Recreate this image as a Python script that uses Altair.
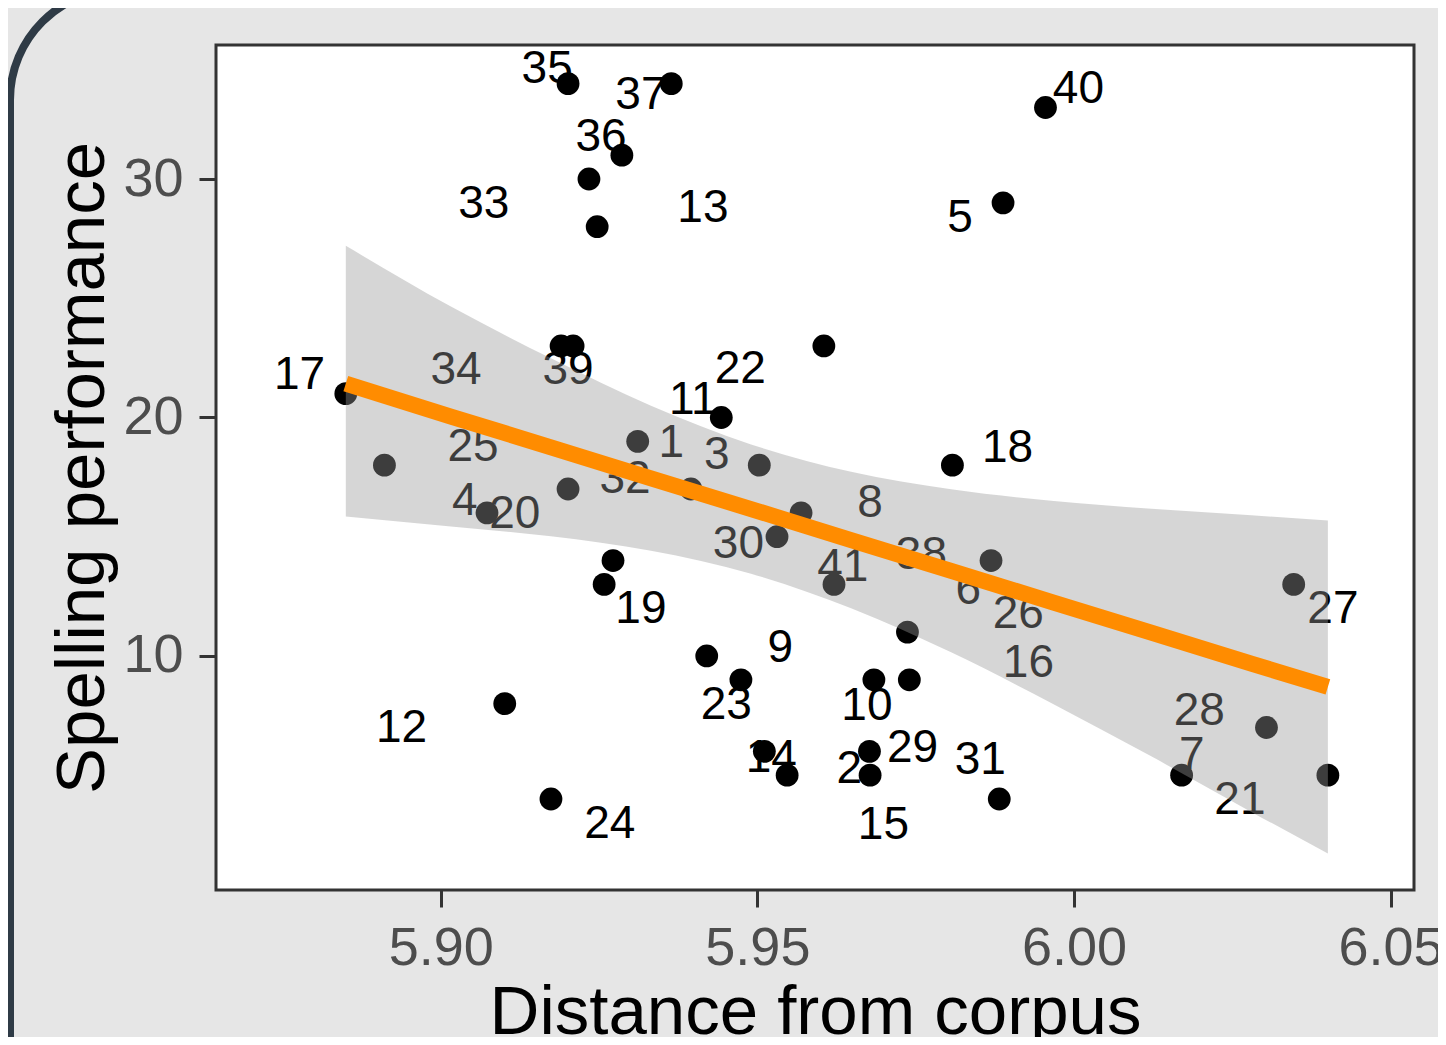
import altair as alt
import pandas as pd

# ---- data ----
pt_x = [5.9201, 5.9364, 5.9286, 5.9234, 5.9247, 5.9955, 5.9888, 5.9605, 5.9190, 5.9209,
        5.8850, 5.9443, 5.9311, 5.8911, 5.9503, 5.9808, 5.9201, 5.9395, 5.9073, 5.9569,
        5.9531, 5.9272, 5.9869, 5.9258, 5.9621, 6.0347, 5.9737, 5.9420, 5.9474, 5.9684,
        5.9740, 5.9101, 6.0304, 5.9511, 5.9677, 5.9547, 5.9678, 6.0170, 6.0401, 5.9174,
        5.9882]
pt_y = [34, 34, 31, 30, 28, 33, 29, 23, 23, 23,
        21, 20, 19, 18, 18, 18, 17, 17, 16, 16,
        15, 14, 14, 13, 13, 13, 11, 10, 9, 9,
        9, 8, 7, 6, 6, 5, 5, 5, 5, 4,
        4]

lab_text = ["35", "37", "36", "33", "13", "40", "5", "22", "11", "34",
            "39", "17", "25", "1", "3", "32", "4", "20", "8", "30",
            "41", "38", "6", "26", "18", "27", "19", "9", "16", "23",
            "12", "24", "10", "29", "28", "14", "2", "15", "31", "7",
            "21"]
lab_x = [5.9168, 5.9316, 5.9253, 5.9068, 5.9414, 6.0007, 5.9820, 5.9473, 5.9398, 5.9024,
         5.9201, 5.8777, 5.9051, 5.9364, 5.9436, 5.9291, 5.9038, 5.9117, 5.9678, 5.9470,
         5.9635, 5.9759, 5.9833, 5.9912, 5.9895, 6.0409, 5.9316, 5.9536, 5.9928, 5.9451,
         5.8938, 5.9267, 5.9673, 5.9745, 6.0198, 5.9522, 5.9645, 5.9699, 5.9852, 6.0186,
         6.0262]
lab_y = [34.74, 33.65, 31.89, 29.08, 28.91, 33.90, 28.49, 22.16, 20.86, 22.12,
         22.12, 21.91, 18.89, 19.06, 18.55, 17.55, 16.62, 16.08, 16.54, 14.82,
         13.86, 14.36, 12.89, 11.89, 18.85, 12.10, 12.10, 10.46, 9.83, 8.07,
         7.11, 3.08, 8.03, 6.27, 7.82, 5.85, 5.39, 3.04, 5.77, 5.97,
         4.09]

band_x = [5.8850, 5.9016, 5.9174, 5.9332, 5.9490, 5.9648, 5.9806, 5.9964, 6.0122, 6.0280, 6.0401]
band_fit = [21.42, 20.04, 18.75, 17.45, 16.16, 14.86, 13.57, 12.27, 10.98, 9.68, 8.70]
band_lo = [15.85, 15.43, 15.02, 14.41, 13.45, 12.00, 10.15, 8.03, 5.79, 3.46, 1.72]
band_hi = [27.20, 24.65, 22.48, 20.49, 18.87, 17.72, 16.99, 16.51, 16.17, 15.90, 15.68]

x_ticks = [5.90, 5.95, 6.00, 6.05]
y_ticks = [10, 20, 30]

pts = pd.DataFrame({"x": pt_x, "y": pt_y})
labs = pd.DataFrame({"x": lab_x, "y": lab_y, "t": lab_text})
band = pd.DataFrame({"x": band_x, "fit": band_fit, "lo": band_lo, "hi": band_hi})

FONT = "Liberation Sans"
xs = alt.Scale(domain=[5.8645, 6.0537], nice=False, zero=False)
ys = alt.Scale(domain=[0.185, 35.62], nice=False, zero=False)

xaxis = alt.Axis(values=x_ticks, format=".2f", title="Distance from corpus",
                 titleFontSize=69, titleColor="black", titleFont=FONT, titleFontWeight="normal",
                 titleY=143, titleBaseline="alphabetic",
                 labelFontSize=54, labelColor="#4d4d4d", labelFont=FONT, labelPadding=14,
                 labelFlush=False, labelOverlap=False,
                 tickSize=17, tickWidth=3, tickColor="#333333", domain=False, grid=False)
yaxis = alt.Axis(values=y_ticks, title="Spelling performance",
                 titleFontSize=69, titleColor="black", titleFont=FONT, titleFontWeight="normal",
                 titleX=-113, titleAngle=270, titleBaseline="alphabetic",
                 labelFontSize=54, labelColor="#4d4d4d", labelFont=FONT, labelPadding=16,
                 labelOverlap=False,
                 tickSize=17, tickWidth=3, tickColor="#333333", domain=False, grid=False)

frame = alt.Chart(pd.DataFrame({"a": [0]})).mark_rect(
    cornerRadius=111, fillOpacity=0, stroke="#2f3b46", strokeWidth=8
).encode(x=alt.value(-206), x2=alt.value(3000), y=alt.value(-56), y2=alt.value(3000))

points = alt.Chart(pts).mark_circle(size=520, color="black", opacity=1).encode(
    x=alt.X("x:Q", scale=xs, axis=xaxis),
    y=alt.Y("y:Q", scale=ys, axis=yaxis),
)

labels = alt.Chart(labs).mark_text(
    font=FONT, fontSize=46, color="black", align="center", baseline="middle", dy=3
).encode(
    x=alt.X("x:Q", scale=xs, axis=xaxis),
    y=alt.Y("y:Q", scale=ys, axis=yaxis),
    text="t:N",
)

ribbon = alt.Chart(band).mark_area(color="#999999", opacity=0.4, interpolate="monotone").encode(
    x=alt.X("x:Q", scale=xs, axis=xaxis),
    y=alt.Y("lo:Q", scale=ys, axis=yaxis),
    y2="hi:Q",
)

line = alt.Chart(band).mark_line(color="#FF8C00", strokeWidth=16, strokeCap="butt").encode(
    x=alt.X("x:Q", scale=xs, axis=xaxis),
    y=alt.Y("fit:Q", scale=ys, axis=yaxis),
)

chart = alt.layer(frame, points, labels, ribbon, line).properties(
    width=1198, height=845,
    padding={"left": 208, "top": 37, "right": 24, "bottom": 147},
    autosize=alt.AutoSizeParams(type="none"),
    background="#e6e6e6",
).configure_view(stroke="#333333", strokeWidth=3, fill="white")

chart.save("out.html", embed_options={"renderer": "svg", "actions": False})
